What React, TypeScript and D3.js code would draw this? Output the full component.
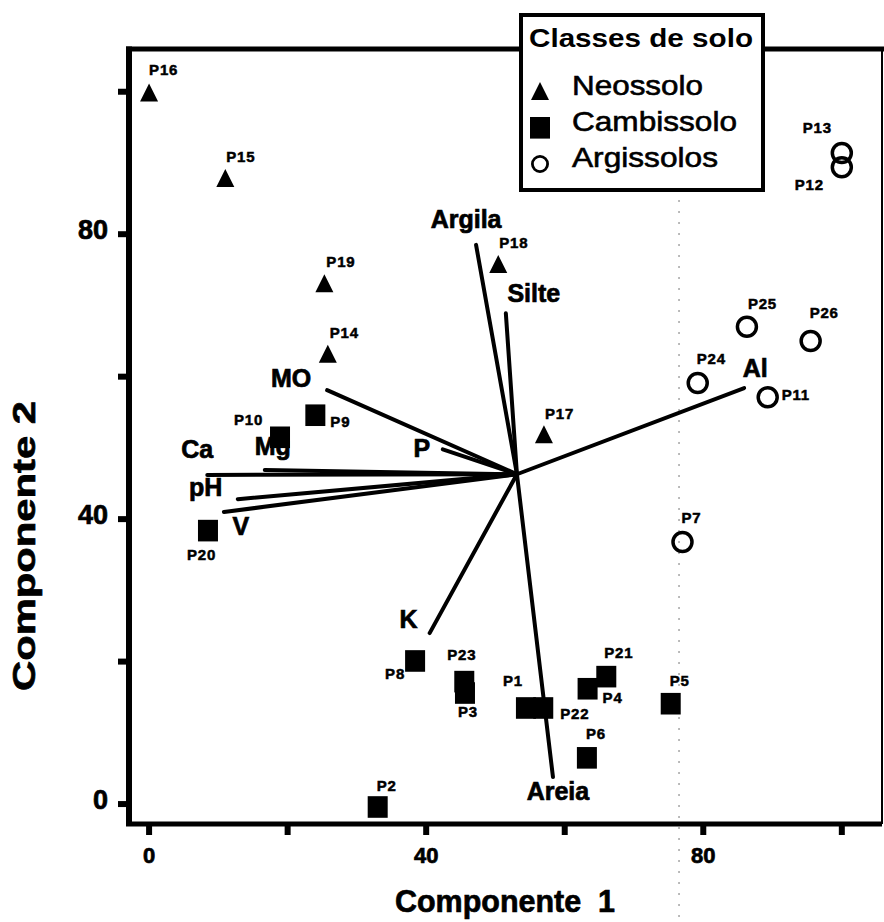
import React from "react";
import * as d3 from "d3";

// scores (Componente 1, Componente 2) for each profile
const pointNames = ["P1", "P2", "P3", "P4", "P5", "P6", "P7", "P8", "P9", "P10", "P11", "P12", "P13",
  "P14", "P15", "P16", "P17", "P18", "P19", "P20", "P21", "P22", "P23", "P24", "P25", "P26"];
const comp1 = [54.4, 33.0, 45.6, 63.3, 75.3, 63.2, 77.0, 38.4, 24.0, 18.9, 89.3, 100.0, 100.0,
  25.8, 11.0, 0.0, 57.0, 50.4, 25.3, 8.5, 66.0, 56.9, 45.5, 79.2, 86.3, 95.5];
const comp2 = [13.6, -0.3, 15.7, 16.3, 14.2, 6.6, 36.8, 20.2, 54.7, 51.6, 57.1, 89.4, 91.4,
  63.2, 87.9, 99.9, 51.9, 75.8, 73.1, 38.5, 18.0, 13.6, 17.3, 59.1, 67.0, 65.0];
const soilClass = ["C", "C", "C", "C", "C", "C", "A", "C", "C", "C", "A", "A", "A",
  "N", "N", "N", "N", "N", "N", "C", "C", "C", "C", "A", "A", "A"];

// variable vectors (origin + end points)
const vecOrigin = [53.1, 46.3];
const vecNames = ["Argila", "Silte", "MO", "P", "Ca", "Mg", "pH", "V", "K", "Areia", "Al"];
const vecX = [47.2, 51.5, 25.7, 42.4, 8.4, 16.7, 12.8, 10.8, 40.5, 58.3, 85.9];
const vecY = [78.5, 68.9, 58.1, 49.8, 46.2, 46.9, 42.8, 41.0, 24.0, 3.8, 58.4];

const legendKeys = ["N", "C", "A"];
const legendLabels = ["Neossolo", "Cambissolo", "Argissolos"];

const tickValues = [0, 20, 40, 60, 80, 100];
const tickLabels = [0, 40, 80];

// label placement (px offsets from the mark)
const pointLabelOffset: Record<string, [number, number]> = {
  P1: [-23, -21], P2: [-1, -15], P3: [-7, 25], P4: [15, 15], P5: [-1, -17], P6: [-1, -18],
  P7: [-1, -19], P8: [-30, 19], P9: [15, 13], P10: [-46, -12], P11: [14, 3], P12: [-47, 23],
  P13: [-39, -20], P14: [2, -16], P15: [1, -16], P16: [0, -17], P17: [1, -15], P18: [1, -16],
  P19: [2, -16], P20: [-21, 30], P21: [-2, -18], P22: [17, 12], P23: [-17, -21], P24: [-1, -19],
  P25: [1, -18], P26: [-1, -23],
};
const vecLabelOffset: Record<string, [number, number]> = {
  Argila: [-10, -17], Silte: [28, -11], MO: [-36, -3], P: [-21, 8], Ca: [-10, -17], Mg: [8, -15],
  pH: [-32, -3], V: [17, 23], K: [-21, -5], Areia: [5, 23], Al: [11, -11],
};

const FONT = "'Liberation Sans', Arial, Helvetica, sans-serif";

function Marker({ kind, cx, cy, s = 1 }: { kind: string; cx: number; cy: number; s?: number }) {
  if (kind === "N") {
    const w = 18 * s, h = 18 * s;
    return <path d={`M${cx},${cy - h / 2}L${cx + w / 2},${cy + h / 2}L${cx - w / 2},${cy + h / 2}Z`} fill="#000" />;
  }
  if (kind === "C") {
    const w = 20 * s;
    return <rect x={cx - w / 2} y={cy - w / 2} width={w} height={w * 1.08} fill="#000" />;
  }
  return <circle cx={cx} cy={cy} r={9.5 * s} fill="none" stroke="#000" strokeWidth={3.5 * s} />;
}

export default function App() {
  const x = d3.scaleLinear().domain([-2.9, 105.8]).range([129, 882]);
  const y = d3.scaleLinear().domain([-2.8, 106]).range([824, 49]);
  const [x0, x1] = x.range();
  const [y0, y1] = y.range();
  const ox = x(vecOrigin[0]), oy = y(vecOrigin[1]);
  const heavy = { stroke: "#000", strokeWidth: 0.7 };

  return (
    <svg width={884} height={922} style={{ position: "absolute", left: 0, top: 0, background: "#fff" }}
      fontFamily={FONT}>
      {/* scan artefact: faint dotted vertical line */}
      <line x1={x(76.5)} x2={x(76.5)} y1={200} y2={922} stroke="#777" strokeWidth={1} strokeDasharray="2,9" />

      {/* frame */}
      <line x1={x0} x2={x0} y1={y1 - 2.5} y2={y0 + 2} stroke="#000" strokeWidth={6} />
      <line x1={x0 - 3} x2={x1} y1={y0} y2={y0} stroke="#000" strokeWidth={5} />
      <line x1={x0 - 3} x2={x1 + 2} y1={y1} y2={y1} stroke="#000" strokeWidth={5} />
      <line x1={x1} x2={x1} y1={y1} y2={y0} stroke="#000" strokeWidth={2} />

      {/* ticks */}
      {tickValues.map(v => (
        <g key={"t" + v}>
          <line x1={x(v)} x2={x(v)} y1={y0 + 2} y2={y0 + 11} stroke="#000" strokeWidth={6} />
          <line x1={x0 - 2} x2={x0 - 11} y1={y(v)} y2={y(v)} stroke="#000" strokeWidth={6} />
        </g>
      ))}
      {tickLabels.map(v => (
        <g key={"l" + v} fontWeight="bold" {...heavy}>
          <text x={x(v)} y={863} textAnchor="middle" fontSize={22}>{v}</text>
          <text x={108} y={y(v) + 5} textAnchor="end" fontSize={27}>{v}</text>
        </g>
      ))}

      {/* axis titles */}
      <text x={505} y={912} textAnchor="middle" fontWeight="bold" fontSize={32} textLength={220}
        lengthAdjust="spacingAndGlyphs" style={{ whiteSpace: "pre" }} {...heavy}>Componente  1</text>
      <text transform="translate(35,546) rotate(-90)" textAnchor="middle" fontWeight="bold" fontSize={31}
        textLength={290} lengthAdjust="spacingAndGlyphs" {...heavy}>Componente 2</text>

      {/* vectors */}
      {vecNames.map((n, i) => (
        <line key={"v" + n} x1={ox} y1={oy} x2={x(vecX[i])} y2={y(vecY[i])} stroke="#000" strokeWidth={4}
          strokeLinecap="round" />
      ))}
      {vecNames.map((n, i) => (
        <text key={"vl" + n} x={x(vecX[i]) + vecLabelOffset[n][0]} y={y(vecY[i]) + vecLabelOffset[n][1]}
          textAnchor="middle" fontWeight="bold" fontSize={25} {...heavy}>{n}</text>
      ))}

      {/* points */}
      {pointNames.map((n, i) => (
        <Marker key={"m" + n} kind={soilClass[i]} cx={x(comp1[i])} cy={y(comp2[i])} />
      ))}
      {pointNames.map((n, i) => (
        <text key={"pl" + n} x={x(comp1[i]) + pointLabelOffset[n][0]} y={y(comp2[i]) + pointLabelOffset[n][1]}
          fontWeight="bold" fontSize={15} letterSpacing={0.8} stroke="#000" strokeWidth={0.5}>{n}</text>
      ))}

      {/* legend */}
      <rect x={521} y={15} width={242} height={175} fill="#fff" stroke="#000" strokeWidth={4} />
      <text x={529} y={47} fontSize={26} fontWeight="bold" textLength={224} lengthAdjust="spacingAndGlyphs">
        Classes de solo
      </text>
      {legendKeys.map((k, i) => (
        <g key={"lg" + k}>
          <Marker kind={k} cx={540} cy={[91, 127, 164][i]} s={k === "A" ? 0.8 : 1} />
          <text x={572} y={[95, 131, 167][i]} fontSize={28} stroke="#000" strokeWidth={0.6}
            textLength={[131, 165, 146][i]} lengthAdjust="spacingAndGlyphs">{legendLabels[i]}</text>
        </g>
      ))}
    </svg>
  );
}
